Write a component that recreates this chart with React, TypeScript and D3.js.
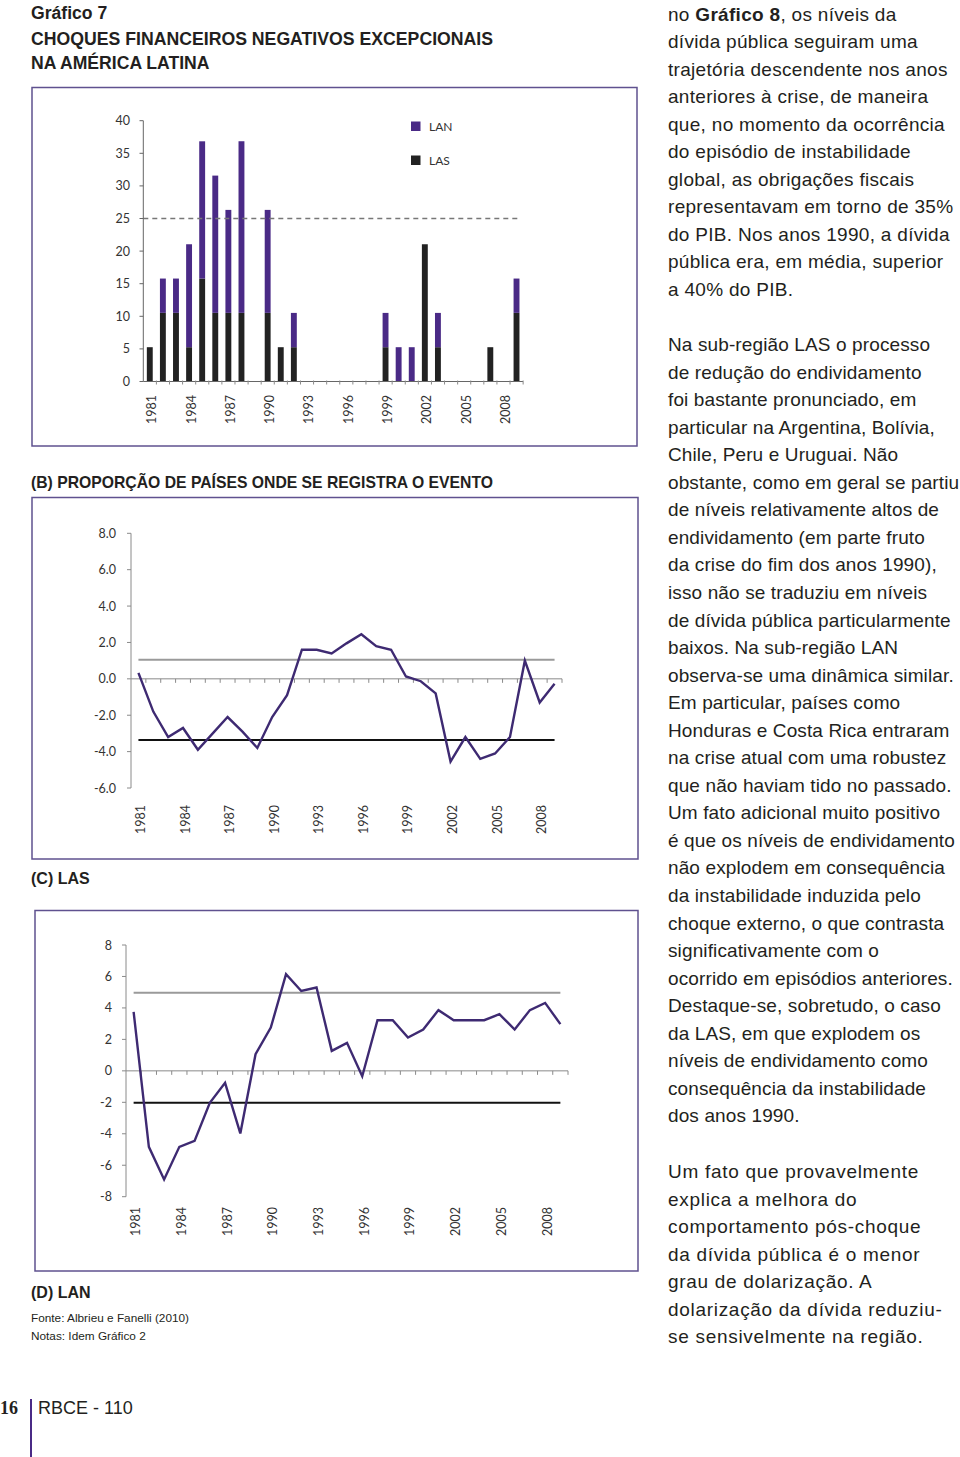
import React from "react";
import * as d3 from "d3";

const years = [1981,1982,1983,1984,1985,1986,1987,1988,1989,1990,1991,1992,1993,1994,1995,1996,1997,1998,1999,2000,2001,2002,2003,2004,2005,2006,2007,2008,2009];
const yearLabels = [1981,1984,1987,1990,1993,1996,1999,2002,2005,2008];

// Chart A: proportion of countries (%) with event
const lasBars = [5.26,10.53,10.53,5.26,15.79,10.53,10.53,10.53,0,10.53,5.26,5.26,0,0,0,0,0,0,5.26,0,0,21.05,5.26,0,0,0,5.26,0,10.53];
const lanBars = [0,5.26,5.26,15.79,21.05,21.05,15.79,26.32,0,15.79,0,5.26,0,0,0,0,0,0,5.26,5.26,5.26,0,5.26,0,0,0,0,0,5.26];
const thresholdA = 25;
const ticksA = [0,5,10,15,20,25,30,35,40];

// Chart B: LAS
const lasLine = [0.33,-1.8,-3.2,-2.7,-3.9,-3.0,-2.1,-2.9,-3.8,-2.1,-0.9,1.6,1.6,1.4,1.95,2.45,1.8,1.6,0.13,-0.13,-0.8,-4.55,-3.2,-4.4,-4.1,-3.2,1.0,-1.3,-0.27];
const lasUpper = 1.05;
const lasLower = -3.36;
const ticksB = [-6,-4,-2,0,2,4,6,8];

// Chart C: LAN
const lanLine = [3.75,-4.83,-6.9,-4.83,-4.45,-2.03,-0.76,-3.98,1.06,2.75,6.14,5.08,5.3,1.27,1.78,-0.34,3.22,3.22,2.12,2.63,3.86,3.22,3.22,3.22,3.6,2.63,3.86,4.32,2.97];
const lanUpper = 4.96;
const lanLower = -2.03;
const ticksC = [-8,-6,-4,-2,0,2,4,6,8];

const para1 = [
  "no |Gráfico 8|, os níveis da",
  "dívida pública seguiram uma",
  "trajetória descendente nos anos",
  "anteriores à crise, de maneira",
  "que, no momento da ocorrência",
  "do episódio de instabilidade",
  "global, as obrigações fiscais",
  "representavam em torno de 35%",
  "do PIB. Nos anos 1990, a dívida",
  "pública era, em média, superior",
  "a 40% do PIB.",
];
const para2 = [
  "Na sub-região LAS o processo",
  "de redução do endividamento",
  "foi bastante pronunciado, em",
  "particular na Argentina, Bolívia,",
  "Chile, Peru e Uruguai. Não",
  "obstante, como em geral se partiu",
  "de níveis relativamente altos de",
  "endividamento (em parte fruto",
  "da crise do fim dos anos 1990),",
  "isso não se traduziu em níveis",
  "de dívida pública particularmente",
  "baixos. Na sub-região LAN",
  "observa-se uma dinâmica similar.",
  "Em particular, países como",
  "Honduras e Costa Rica entraram",
  "na crise atual com uma robustez",
  "que não haviam tido no passado.",
  "Um fato adicional muito positivo",
  "é que os níveis de endividamento",
  "não explodem em consequência",
  "da instabilidade induzida pelo",
  "choque externo, o que contrasta",
  "significativamente com o",
  "ocorrido em episódios anteriores.",
  "Destaque-se, sobretudo, o caso",
  "da LAS, em que explodem os",
  "níveis de endividamento como",
  "consequência da instabilidade",
  "dos anos 1990.",
];
const para3 = [
  "Um fato que provavelmente",
  "explica a melhora do",
  "comportamento pós-choque",
  "da dívida pública é o menor",
  "grau de dolarização. A",
  "dolarização da dívida reduziu-",
  "se sensivelmente na região.",
];

const PURPLE = "#4a2a86";
const LINE = "#3e2a72";
const BOX = "#5f518f";
const AXIS = "#8a8a8a";
const TXT = "#231f20";
const tickFont = "Lato, 'Open Sans', sans-serif";
const sans = "'Liberation Sans', Arial, sans-serif";

function Paragraph({ lines, y0, ls }: { lines: string[]; y0: number; ls: number }) {
  return (
    <g>
      {lines.map((l, i) => {
        const parts = l.split("|");
        return (
          <text key={i} x={668} y={y0 + i * 27.55} fontSize={19} fontFamily={sans} fill={TXT} letterSpacing={ls}>
            {parts.map((p, j) => (
              <tspan key={j} fontWeight={j % 2 === 1 ? "bold" : "normal"}>{p}</tspan>
            ))}
          </text>
        );
      })}
    </g>
  );
}

function XTicks({ x, y, len }: { x: d3.ScaleBand<number>; y: number; len: number }) {
  const step = x.step();
  const [r0] = x.range();
  return (
    <g stroke={AXIS} strokeWidth={1}>
      {years.map((_, i) => (
        <line key={i} x1={r0 + (i + 1) * step} x2={r0 + (i + 1) * step} y1={y} y2={y + len} />
      ))}
    </g>
  );
}

function YearLabels({ x, yEnd }: { x: d3.ScaleBand<number>; yEnd: number }) {
  return (
    <g fontSize={12.5} fontFamily={tickFont} fill="#333">
      {yearLabels.map((yr) => {
        const cx = (x(yr) as number) + x.bandwidth() / 2 + 2;
        return (
          <text key={yr} transform={`translate(${cx},${yEnd}) rotate(-90)`} textAnchor="end" dominantBaseline="central">
            {yr}
          </text>
        );
      })}
    </g>
  );
}

function ChartA() {
  const x = d3.scaleBand<number>().domain(years).range([143.3, 523]).paddingInner(0.55).paddingOuter(0.27);
  const y = d3.scaleLinear().domain([0, 40]).range([381.5, 120.7]);
  const stack = d3.stack<any>().keys(["las", "lan"])(years.map((yr, i) => ({ yr, las: lasBars[i], lan: lanBars[i] })));
  const colors = ["#222222", PURPLE];
  return (
    <g>
      <rect x={32} y={87.5} width={605} height={358.5} fill="#fff" stroke={BOX} strokeWidth={1.5} />
      {stack.map((s, k) => (
        <g key={k} fill={colors[k]}>
          {s.map((d, i) => (d[1] - d[0] > 0 ? (
            <rect key={i} x={x(years[i])} y={y(d[1])} width={x.bandwidth()} height={y(d[0]) - y(d[1])} />
          ) : null))}
        </g>
      ))}
      <line x1={143.3} x2={518} y1={y(thresholdA)} y2={y(thresholdA)} stroke="#777" strokeWidth={1.4} strokeDasharray="5,4" />
      <line x1={143.3} x2={143.3} y1={y(40)} y2={y(0)} stroke="#666" strokeWidth={1} />
      <line x1={143.3} x2={523} y1={y(0)} y2={y(0)} stroke="#666" strokeWidth={1} />
      <g stroke="#666">
        {ticksA.map((t) => <line key={t} x1={139.5} x2={143.3} y1={y(t)} y2={y(t)} />)}
      </g>
      <XTicks x={x} y={y(0) - 1} len={4} />
      <g fontSize={12.5} fontFamily={tickFont} fill="#333" textAnchor="end">
        {ticksA.map((t) => <text key={t} x={130} y={y(t)} dominantBaseline="central">{t}</text>)}
      </g>
      <YearLabels x={x} yEnd={395} />
      <rect x={411} y={121.5} width={9.5} height={9.5} fill={PURPLE} />
      <text x={429} y={126.5} fontSize={12} fontFamily={tickFont} fill="#333" dominantBaseline="central">LAN</text>
      <rect x={411} y={155.5} width={9.5} height={9.5} fill="#222" />
      <text x={429} y={160.5} fontSize={12} fontFamily={tickFont} fill="#333" dominantBaseline="central">LAS</text>
    </g>
  );
}

function LineChart({ data, upper, lower, ticks, domain, yRange, xRange, box, labelX, fmt, yearEnd }: any) {
  const x = d3.scaleBand<number>().domain(years).range(xRange);
  const y = d3.scaleLinear().domain(domain).range(yRange);
  const cx = (yr: number) => (x(yr) as number) + x.bandwidth() / 2;
  const line = d3.line<number>().x((_, i) => cx(years[i])).y((d) => y(d));
  const xa = xRange[0];
  const x0 = cx(years[0]);
  const x1 = cx(years[years.length - 1]);
  return (
    <g>
      <rect x={box[0]} y={box[1]} width={box[2]} height={box[3]} fill="#fff" stroke={BOX} strokeWidth={1.5} />
      <line x1={xa} x2={xa} y1={y(domain[1])} y2={y(domain[0])} stroke={AXIS} strokeWidth={1} />
      <g stroke={AXIS}>
        {ticks.map((t: number) => <line key={t} x1={xa - 4} x2={xa} y1={y(t)} y2={y(t)} />)}
      </g>
      <line x1={xa} x2={xRange[1]} y1={y(0)} y2={y(0)} stroke={AXIS} strokeWidth={1} />
      <XTicks x={x} y={y(0)} len={4} />
      <g fontSize={12.5} fontFamily={tickFont} fill="#333" textAnchor="end">
        {ticks.map((t: number) => <text key={t} x={labelX} y={y(t)} dominantBaseline="central">{fmt(t)}</text>)}
      </g>
      <line x1={x0} x2={x1} y1={y(upper)} y2={y(upper)} stroke="#9a9a9a" strokeWidth={2} />
      <line x1={x0} x2={x1} y1={y(lower)} y2={y(lower)} stroke="#111" strokeWidth={2} />
      <path d={line(data) as string} fill="none" stroke={LINE} strokeWidth={2.4} strokeLinejoin="miter" />
      <YearLabels x={x} yEnd={yearEnd} />
    </g>
  );
}

const fmtB = (t: number) => d3.format(".1f")(t).replace("\u2212", "-");

export default function App() {
  return (
    <svg width={960} height={1457} style={{ position: "absolute", left: 0, top: 0, background: "#fff" }}>
      <rect x={0} y={0} width={960} height={1457} fill="#fff" />
      <g fontFamily={sans} fill={TXT} fontWeight="bold">
        <text x={31} y={19} fontSize={17.6}>Gráfico 7</text>
        <text x={31} y={45} fontSize={17.6} textLength={462} lengthAdjust="spacingAndGlyphs">CHOQUES FINANCEIROS NEGATIVOS EXCEPCIONAIS</text>
        <text x={31} y={69} fontSize={17.6}>NA AMÉRICA LATINA</text>
        <text x={31} y={488} fontSize={16.2} textLength={462} lengthAdjust="spacingAndGlyphs">(B) PROPORÇÃO DE PAÍSES ONDE SE REGISTRA O EVENTO</text>
        <text x={31} y={884} fontSize={16}>(C) LAS</text>
        <text x={31} y={1298} fontSize={16}>(D) LAN</text>
      </g>
      <ChartA />
      <LineChart data={lasLine} upper={lasUpper} lower={lasLower} ticks={ticksB} domain={[-6, 8]} yRange={[788, 533.3]}
        xRange={[131, 562]} box={[32, 497.5, 606, 361.5]} labelX={116} fmt={fmtB} yearEnd={805} />
      <LineChart data={lanLine} upper={lanUpper} lower={lanLower} ticks={ticksC} domain={[-8, 8]} yRange={[1196.7, 945]}
        xRange={[126, 568]} box={[35, 910.5, 603, 360.5]} labelX={112} fmt={(t: number) => String(t)} yearEnd={1207} />
      <g fontFamily={sans} fill={TXT} fontSize={11.8}>
        <text x={31} y={1321.5}>Fonte: Albrieu e Fanelli (2010)</text>
        <text x={31} y={1339.5}>Notas: Idem Gráfico 2</text>
      </g>
      <Paragraph lines={para1} y0={20.5} ls={0.3} />
      <Paragraph lines={para2} y0={351} ls={0.12} />
      <Paragraph lines={para3} y0={1178} ls={0.7} />
      <text x={0} y={1414} fontFamily="'Liberation Serif', 'DejaVu Serif', serif" fontWeight="bold" fontSize={18} fill={TXT}>16</text>
      <line x1={31} x2={31} y1={1399} y2={1457} stroke="#4a2a86" strokeWidth={2} />
      <text x={38} y={1414} fontFamily={sans} fontSize={18} fill={TXT}>RBCE - 110</text>
    </svg>
  );
}
